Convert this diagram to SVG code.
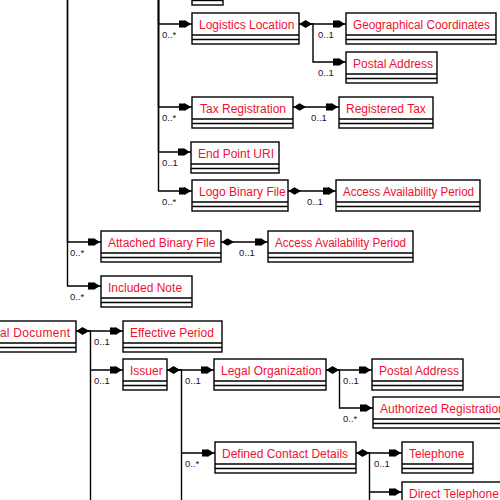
<svg xmlns="http://www.w3.org/2000/svg" width="500" height="500" viewBox="0 0 500 500">
  <style>
    .box rect { fill: #ffffff; stroke: #000000; stroke-width: 1.4; }
    .box line { stroke: #000000; stroke-width: 1.4; }
    .box text { font-family: "Liberation Sans", Arial, sans-serif; font-size: 12px; fill: #f01030; }
    .conn path { fill: none; stroke: #000000; stroke-width: 1.4; }
    .mult { font-family: "Liberation Sans", Arial, sans-serif; font-size: 9.5px; fill: #141432; }
  </style>
  <defs>
    <marker id="arrow" markerUnits="userSpaceOnUse" markerWidth="14" markerHeight="10" viewBox="-14 -5 14 10" refX="0" refY="0" orient="auto">
      <path d="M-13,-3.4 H-7.5 V-4 L-1,0 L-7.5,4 V3.4 H-13 Z" fill="#000000"/>
    </marker>
    <marker id="diamond" markerUnits="userSpaceOnUse" markerWidth="14" markerHeight="9" viewBox="0 -4.5 14 9" refX="0" refY="0" orient="auto">
      <path d="M0.5,0 L6.5,-3.8 L13,0 L6.5,3.8 Z" fill="#000000"/>
    </marker>
  </defs>

  <!-- connectors -->
  <g id="connectors" class="conn">
    <!-- branch from the element above, x = 67.5 -->
    <path d="M67.5,-10 V242 H101" marker-end="url(#arrow)"/>
    <path d="M67.5,-10 V286 H101" marker-end="url(#arrow)"/>
    <!-- branch from the element above, x = 158.5 -->
    <path d="M158.5,-10 V24 H192" marker-end="url(#arrow)"/>
    <path d="M158.5,-10 V107 H192" marker-end="url(#arrow)"/>
    <path d="M158.5,-10 V152 H191" marker-end="url(#arrow)"/>
    <path d="M158.5,-10 V191 H192" marker-end="url(#arrow)"/>
    <!-- Logistics Location -->
    <path d="M299,24 H346" marker-start="url(#diamond)" marker-end="url(#arrow)"/>
    <path d="M299,24 H313 V62 H346" marker-start="url(#diamond)" marker-end="url(#arrow)"/>
    <!-- Tax Registration -->
    <path d="M293,107 H339" marker-start="url(#diamond)" marker-end="url(#arrow)"/>
    <!-- Logo Binary File -->
    <path d="M288,191 H336" marker-start="url(#diamond)" marker-end="url(#arrow)"/>
    <!-- Attached Binary File -->
    <path d="M221,242 H268" marker-start="url(#diamond)" marker-end="url(#arrow)"/>
    <!-- Legal Document -->
    <path d="M76,331 H123" marker-start="url(#diamond)" marker-end="url(#arrow)"/>
    <path d="M76,331 H90.5 V370 H123" marker-start="url(#diamond)" marker-end="url(#arrow)"/>
    <path d="M90.5,370 V510"/>
    <!-- Issuer -->
    <path d="M167,370 H214" marker-start="url(#diamond)" marker-end="url(#arrow)"/>
    <path d="M167,370 H181.5 V453 H215" marker-start="url(#diamond)" marker-end="url(#arrow)"/>
    <path d="M181.5,453 V510"/>
    <!-- Legal Organization -->
    <path d="M326,370 H372" marker-start="url(#diamond)" marker-end="url(#arrow)"/>
    <path d="M326,370 H339.5 V408 H373" marker-start="url(#diamond)" marker-end="url(#arrow)"/>
    <!-- Defined Contact Details -->
    <path d="M356,453 H402" marker-start="url(#diamond)" marker-end="url(#arrow)"/>
    <path d="M356,453 H369.5 V492 H402" marker-start="url(#diamond)" marker-end="url(#arrow)"/>
    <path d="M369.5,492 V510"/>
  </g>

  <!-- multiplicities -->
  <g id="multiplicities" class="mult">
    <text x="162" y="38">0..*</text>
    <text x="162" y="121">0..*</text>
    <text x="162" y="166">0..1</text>
    <text x="162" y="205">0..*</text>
    <text x="318" y="38">0..1</text>
    <text x="318" y="76">0..1</text>
    <text x="311" y="121">0..1</text>
    <text x="307" y="205">0..1</text>
    <text x="70" y="256">0..*</text>
    <text x="239" y="256">0..1</text>
    <text x="70" y="300">0..*</text>
    <text x="94" y="345">0..1</text>
    <text x="94" y="384">0..1</text>
    <text x="185" y="384">0..1</text>
    <text x="343" y="384">0..1</text>
    <text x="343" y="422">0..*</text>
    <text x="185" y="467">0..*</text>
    <text x="374" y="467">0..1</text>
    <text x="374" y="506">0..1</text>
  </g>

  <!-- nodes -->
  <g id="node-top" class="box">
    <rect x="192" y="-26" width="31" height="31"/>
    <line x1="192" y1="-4" x2="223" y2="-4"/>
    <line x1="192" y1="0.5" x2="223" y2="0.5"/>
  </g>
  <g id="node-logistics-location" class="box">
    <rect x="192" y="13" width="107" height="31"/>
    <line x1="192" y1="35" x2="299" y2="35"/>
    <line x1="192" y1="39.5" x2="299" y2="39.5"/>
    <text x="199" y="29">Logistics Location</text>
  </g>
  <g id="node-geographical-coordinates" class="box">
    <rect x="346" y="13" width="150" height="31"/>
    <line x1="346" y1="35" x2="496" y2="35"/>
    <line x1="346" y1="39.5" x2="496" y2="39.5"/>
    <text x="353" y="29" textLength="137" lengthAdjust="spacingAndGlyphs">Geographical Coordinates</text>
  </g>
  <g id="node-postal-address-1" class="box">
    <rect x="346" y="52" width="91" height="31"/>
    <line x1="346" y1="74" x2="437" y2="74"/>
    <line x1="346" y1="78.5" x2="437" y2="78.5"/>
    <text x="353" y="68">Postal Address</text>
  </g>
  <g id="node-tax-registration" class="box">
    <rect x="192" y="97" width="101" height="31"/>
    <line x1="192" y1="119" x2="293" y2="119"/>
    <line x1="192" y1="123.5" x2="293" y2="123.5"/>
    <text x="200" y="113">Tax Registration</text>
  </g>
  <g id="node-registered-tax" class="box">
    <rect x="339" y="97" width="94" height="31"/>
    <line x1="339" y1="119" x2="433" y2="119"/>
    <line x1="339" y1="123.5" x2="433" y2="123.5"/>
    <text x="346" y="113">Registered Tax</text>
  </g>
  <g id="node-end-point-uri" class="box">
    <rect x="191" y="142" width="88" height="31"/>
    <line x1="191" y1="164" x2="279" y2="164"/>
    <line x1="191" y1="168.5" x2="279" y2="168.5"/>
    <text x="198" y="158">End Point URI</text>
  </g>
  <g id="node-logo-binary-file" class="box">
    <rect x="192" y="180" width="96" height="31"/>
    <line x1="192" y1="202" x2="288" y2="202"/>
    <line x1="192" y1="206.5" x2="288" y2="206.5"/>
    <text x="199" y="196">Logo Binary File</text>
  </g>
  <g id="node-access-availability-period-1" class="box">
    <rect x="336" y="180" width="144" height="31"/>
    <line x1="336" y1="202" x2="480" y2="202"/>
    <line x1="336" y1="206.5" x2="480" y2="206.5"/>
    <text x="343" y="196" textLength="131" lengthAdjust="spacingAndGlyphs">Access Availability Period</text>
  </g>
  <g id="node-attached-binary-file" class="box">
    <rect x="101" y="231" width="120" height="31"/>
    <line x1="101" y1="253" x2="221" y2="253"/>
    <line x1="101" y1="257.5" x2="221" y2="257.5"/>
    <text x="108" y="247">Attached Binary File</text>
  </g>
  <g id="node-access-availability-period-2" class="box">
    <rect x="268" y="231" width="145" height="31"/>
    <line x1="268" y1="253" x2="413" y2="253"/>
    <line x1="268" y1="257.5" x2="413" y2="257.5"/>
    <text x="275" y="247" textLength="131" lengthAdjust="spacingAndGlyphs">Access Availability Period</text>
  </g>
  <g id="node-included-note" class="box">
    <rect x="101" y="276" width="91" height="31"/>
    <line x1="101" y1="298" x2="192" y2="298"/>
    <line x1="101" y1="302.5" x2="192" y2="302.5"/>
    <text x="108" y="292">Included Note</text>
  </g>
  <g id="node-legal-document" class="box">
    <rect x="-40" y="321" width="116" height="31"/>
    <line x1="-40" y1="343" x2="76" y2="343"/>
    <line x1="-40" y1="347.5" x2="76" y2="347.5"/>
    <text x="-21" y="337" textLength="91" lengthAdjust="spacing">Legal Document</text>
  </g>
  <g id="node-effective-period" class="box">
    <rect x="123" y="321" width="99" height="31"/>
    <line x1="123" y1="343" x2="222" y2="343"/>
    <line x1="123" y1="347.5" x2="222" y2="347.5"/>
    <text x="130" y="337">Effective Period</text>
  </g>
  <g id="node-issuer" class="box">
    <rect x="123" y="359" width="44" height="31"/>
    <line x1="123" y1="381" x2="167" y2="381"/>
    <line x1="123" y1="385.5" x2="167" y2="385.5"/>
    <text x="130" y="375">Issuer</text>
  </g>
  <g id="node-legal-organization" class="box">
    <rect x="214" y="359" width="112" height="31"/>
    <line x1="214" y1="381" x2="326" y2="381"/>
    <line x1="214" y1="385.5" x2="326" y2="385.5"/>
    <text x="221" y="375">Legal Organization</text>
  </g>
  <g id="node-postal-address-2" class="box">
    <rect x="372" y="359" width="91" height="31"/>
    <line x1="372" y1="381" x2="463" y2="381"/>
    <line x1="372" y1="385.5" x2="463" y2="385.5"/>
    <text x="379" y="375">Postal Address</text>
  </g>
  <g id="node-authorized-registration" class="box">
    <rect x="373" y="397" width="160" height="31"/>
    <line x1="373" y1="419" x2="533" y2="419"/>
    <line x1="373" y1="423.5" x2="533" y2="423.5"/>
    <text x="380" y="413">Authorized Registration</text>
  </g>
  <g id="node-defined-contact-details" class="box">
    <rect x="215" y="442" width="141" height="31"/>
    <line x1="215" y1="464" x2="356" y2="464"/>
    <line x1="215" y1="468.5" x2="356" y2="468.5"/>
    <text x="222" y="458">Defined Contact Details</text>
  </g>
  <g id="node-telephone" class="box">
    <rect x="402" y="442" width="71" height="31"/>
    <line x1="402" y1="464" x2="473" y2="464"/>
    <line x1="402" y1="468.5" x2="473" y2="468.5"/>
    <text x="409" y="458">Telephone</text>
  </g>
  <g id="node-direct-telephone" class="box">
    <rect x="402" y="482" width="130" height="31"/>
    <line x1="402" y1="504" x2="532" y2="504"/>
    <text x="409" y="498">Direct Telephone</text>
  </g>
</svg>
